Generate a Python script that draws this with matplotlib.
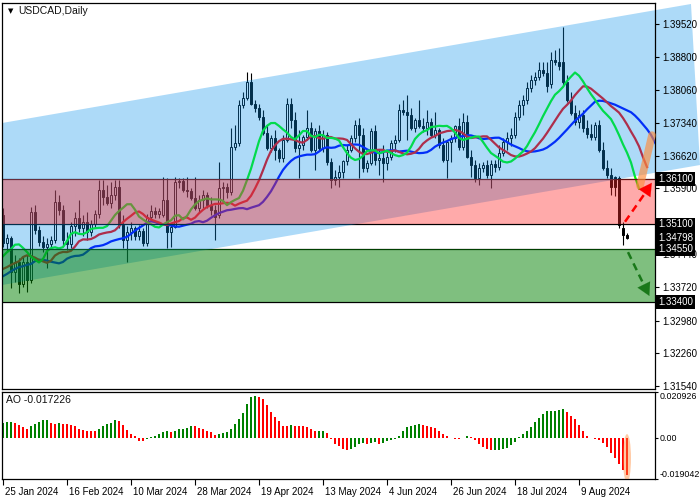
import matplotlib
matplotlib.use('Agg')
import matplotlib.pyplot as plt
import matplotlib.transforms as mtransforms
from matplotlib.patches import Polygon, Ellipse
import numpy as np

plt.rcParams['font.family'] = ['Liberation Sans', 'DejaVu Sans']

# ── USDCAD daily candles (25 Jan 2024 .. 22 Aug 2024) ──
opens = [1.3531, 1.3469, 1.3480, 1.3405, 1.3427, 1.3379, 1.3427, 1.3388, 1.3537, 1.3498,
         1.3471, 1.3460, 1.3467, 1.3476, 1.3559, 1.3542, 1.3476, 1.3467, 1.3507, 1.3524,
         1.3502, 1.3515, 1.3493, 1.3511, 1.3533, 1.3586, 1.3570, 1.3557, 1.3575, 1.3593,
         1.3509, 1.3476, 1.3493, 1.3502, 1.3485, 1.3496, 1.3469, 1.3526, 1.3540, 1.3533,
         1.3531, 1.3564, 1.3493, 1.3504, 1.3604, 1.3606, 1.3586, 1.3584, 1.3568, 1.3546,
         1.3564, 1.3575, 1.3553, 1.3542, 1.3531, 1.3590, 1.3593, 1.3582, 1.3681, 1.3690,
         1.3773, 1.3789, 1.3824, 1.3776, 1.3767, 1.3747, 1.3712, 1.3679, 1.3701, 1.3674,
         1.3656, 1.3696, 1.3776, 1.3740, 1.3679, 1.3685, 1.3703, 1.3723, 1.3674, 1.3716,
         1.3679, 1.3707, 1.3648, 1.3608, 1.3615, 1.3626, 1.3650, 1.3674, 1.3701, 1.3729,
         1.3707, 1.3634, 1.3645, 1.3716, 1.3652, 1.3656, 1.3645, 1.3659, 1.3690, 1.3696,
         1.3762, 1.3758, 1.3751, 1.3723, 1.3740, 1.3727, 1.3723, 1.3736, 1.3707, 1.3718,
         1.3685, 1.3652, 1.3692, 1.3701, 1.3727, 1.3681, 1.3736, 1.3659, 1.3641, 1.3612,
         1.3634, 1.3641, 1.3619, 1.3643, 1.3637, 1.3668, 1.3692, 1.3701, 1.3707, 1.3747,
         1.3773, 1.3784, 1.3811, 1.3829, 1.3835, 1.3851, 1.3844, 1.3820, 1.3873, 1.3868,
         1.3868, 1.3824, 1.3784, 1.3756, 1.3736, 1.3751, 1.3723, 1.3709, 1.3703, 1.3729,
         1.3674, 1.3634, 1.3619, 1.3615, 1.3612, 1.3502, 1.3487]
highs = [1.3546, 1.3489, 1.3485, 1.3443, 1.3436, 1.3440, 1.3443, 1.3548, 1.3553, 1.3507,
         1.3485, 1.3480, 1.3485, 1.3586, 1.3575, 1.3553, 1.3493, 1.3515, 1.3537, 1.3564,
         1.3531, 1.3537, 1.3520, 1.3542, 1.3608, 1.3608, 1.3597, 1.3604, 1.3608, 1.3608,
         1.3531, 1.3507, 1.3515, 1.3507, 1.3509, 1.3502, 1.3533, 1.3553, 1.3548, 1.3546,
         1.3615, 1.3612, 1.3509, 1.3615, 1.3612, 1.3612, 1.3615, 1.3590, 1.3615, 1.3575,
         1.3586, 1.3582, 1.3570, 1.3553, 1.3648, 1.3604, 1.3601, 1.3723, 1.3729, 1.3784,
         1.3802, 1.3846, 1.3844, 1.3784, 1.3776, 1.3762, 1.3729, 1.3707, 1.3718, 1.3679,
         1.3707, 1.3789, 1.3789, 1.3758, 1.3718, 1.3707, 1.3762, 1.3736, 1.3723, 1.3729,
         1.3718, 1.3714, 1.3656, 1.3630, 1.3641, 1.3652, 1.3685, 1.3707, 1.3740, 1.3745,
         1.3723, 1.3652, 1.3723, 1.3729, 1.3674, 1.3685, 1.3670, 1.3696, 1.3707, 1.3776,
         1.3784, 1.3795, 1.3767, 1.3745, 1.3784, 1.3745, 1.3762, 1.3745, 1.3758, 1.3723,
         1.3701, 1.3696, 1.3707, 1.3729, 1.3745, 1.3756, 1.3751, 1.3674, 1.3652, 1.3645,
         1.3648, 1.3652, 1.3652, 1.3652, 1.3685, 1.3701, 1.3714, 1.3723, 1.3758, 1.3784,
         1.3795, 1.3824, 1.3840, 1.3846, 1.3868, 1.3868, 1.3868, 1.3890, 1.3895, 1.3899,
         1.3945, 1.3840, 1.3802, 1.3773, 1.3762, 1.3762, 1.3740, 1.3731, 1.3736, 1.3740,
         1.3692, 1.3652, 1.3634, 1.3617, 1.3617, 1.3515, 1.3491]
lows = [1.3460, 1.3449, 1.3370, 1.3383, 1.3359, 1.3372, 1.3361, 1.3381, 1.3489, 1.3462,
        1.3449, 1.3414, 1.3458, 1.3469, 1.3531, 1.3462, 1.3454, 1.3458, 1.3485, 1.3493,
        1.3485, 1.3476, 1.3485, 1.3502, 1.3524, 1.3553, 1.3553, 1.3546, 1.3564, 1.3502,
        1.3458, 1.3427, 1.3476, 1.3476, 1.3476, 1.3462, 1.3462, 1.3518, 1.3524, 1.3524,
        1.3526, 1.3458, 1.3460, 1.3502, 1.3590, 1.3582, 1.3570, 1.3564, 1.3542, 1.3537,
        1.3546, 1.3546, 1.3531, 1.3476, 1.3524, 1.3564, 1.3568, 1.3575, 1.3674, 1.3683,
        1.3767, 1.3784, 1.3773, 1.3758, 1.3740, 1.3707, 1.3674, 1.3670, 1.3652, 1.3648,
        1.3648, 1.3692, 1.3723, 1.3670, 1.3612, 1.3674, 1.3696, 1.3670, 1.3630, 1.3674,
        1.3670, 1.3641, 1.3590, 1.3597, 1.3593, 1.3612, 1.3641, 1.3670, 1.3692, 1.3612,
        1.3626, 1.3626, 1.3641, 1.3641, 1.3619, 1.3604, 1.3630, 1.3652, 1.3670, 1.3692,
        1.3751, 1.3696, 1.3718, 1.3714, 1.3723, 1.3714, 1.3707, 1.3703, 1.3701, 1.3679,
        1.3648, 1.3612, 1.3648, 1.3692, 1.3674, 1.3674, 1.3656, 1.3615, 1.3604, 1.3597,
        1.3626, 1.3612, 1.3590, 1.3626, 1.3630, 1.3661, 1.3674, 1.3683, 1.3701, 1.3740,
        1.3751, 1.3776, 1.3802, 1.3817, 1.3829, 1.3837, 1.3802, 1.3811, 1.3862, 1.3851,
        1.3817, 1.3780, 1.3751, 1.3729, 1.3723, 1.3714, 1.3701, 1.3696, 1.3696, 1.3670,
        1.3630, 1.3612, 1.3575, 1.3573, 1.3502, 1.3465, 1.3478]
closes = [1.3469, 1.3480, 1.3405, 1.3427, 1.3379, 1.3427, 1.3388, 1.3537, 1.3498, 1.3471,
          1.3460, 1.3467, 1.3476, 1.3559, 1.3542, 1.3476, 1.3467, 1.3507, 1.3524, 1.3502,
          1.3515, 1.3493, 1.3511, 1.3533, 1.3586, 1.3570, 1.3557, 1.3575, 1.3593, 1.3509,
          1.3476, 1.3493, 1.3502, 1.3485, 1.3496, 1.3469, 1.3526, 1.3540, 1.3533, 1.3540,
          1.3564, 1.3493, 1.3504, 1.3604, 1.3606, 1.3586, 1.3584, 1.3568, 1.3546, 1.3564,
          1.3575, 1.3553, 1.3542, 1.3526, 1.3590, 1.3593, 1.3582, 1.3681, 1.3690, 1.3773,
          1.3789, 1.3824, 1.3776, 1.3767, 1.3747, 1.3712, 1.3679, 1.3701, 1.3674, 1.3656,
          1.3696, 1.3776, 1.3740, 1.3679, 1.3685, 1.3703, 1.3723, 1.3674, 1.3716, 1.3679,
          1.3707, 1.3648, 1.3608, 1.3615, 1.3626, 1.3650, 1.3674, 1.3701, 1.3729, 1.3707,
          1.3634, 1.3645, 1.3716, 1.3652, 1.3656, 1.3645, 1.3659, 1.3690, 1.3696, 1.3762,
          1.3758, 1.3751, 1.3723, 1.3740, 1.3727, 1.3723, 1.3736, 1.3707, 1.3718, 1.3685,
          1.3652, 1.3692, 1.3701, 1.3727, 1.3681, 1.3736, 1.3659, 1.3641, 1.3612, 1.3634,
          1.3641, 1.3619, 1.3643, 1.3637, 1.3668, 1.3692, 1.3701, 1.3707, 1.3747, 1.3773,
          1.3784, 1.3811, 1.3829, 1.3835, 1.3851, 1.3844, 1.3815, 1.3873, 1.3868, 1.3859,
          1.3824, 1.3784, 1.3756, 1.3736, 1.3751, 1.3723, 1.3709, 1.3703, 1.3729, 1.3674,
          1.3634, 1.3619, 1.3593, 1.3593, 1.3509, 1.3487, 1.3480]

# Awesome Oscillator values
ao = [0.0068, 0.0072, 0.0073, 0.0068, 0.0058, 0.0047, 0.0041, 0.0051, 0.0061, 0.0072,
      0.0081, 0.0082, 0.0068, 0.0063, 0.0065, 0.0064, 0.0063, 0.0056, 0.0051, 0.0040,
      0.0035, 0.0031, 0.0030, 0.0029, 0.0037, 0.0051, 0.0063, 0.0068, 0.0081, 0.0077,
      0.0058, 0.0035, 0.0017, 0.0005, -0.0014, -0.0015, -0.0008, 0.0003, 0.0008, 0.0015,
      0.0026, 0.0028, 0.0026, 0.0032, 0.0040, 0.0041, 0.0042, 0.0054, 0.0053, 0.0046,
      0.0040, 0.0031, 0.0024, 0.0014, 0.0017, 0.0023, 0.0024, 0.0037, 0.0063, 0.0086,
      0.0113, 0.0155, 0.0184, 0.0192, 0.0187, 0.0175, 0.0148, 0.0116, 0.0096, 0.0078,
      0.0054, 0.0053, 0.0058, 0.0055, 0.0054, 0.0051, 0.0050, 0.0040, 0.0030, 0.0031,
      0.0032, 0.0023, -0.0008, -0.0028, -0.0038, -0.0051, -0.0055, -0.0054, -0.0043, -0.0028,
      -0.0024, -0.0031, -0.0023, -0.0022, -0.0028, -0.0023, -0.0015, -0.0009, -0.0008, 0.0008,
      0.0029, 0.0049, 0.0055, 0.0058, 0.0063, 0.0056, 0.0055, 0.0049, 0.0043, 0.0031,
      0.0018, 0.0005, -0.0003, -0.0006, -0.0007, -0.0003, 0.0008, 0.0003, -0.0012, -0.0028,
      -0.0043, -0.0054, -0.0059, -0.0058, -0.0056, -0.0054, -0.0047, -0.0035, -0.0020, 0.0003,
      0.0017, 0.0029, 0.0049, 0.0072, 0.0092, 0.0109, 0.0121, 0.0122, 0.0123, 0.0125,
      0.0132, 0.0118, 0.0098, 0.0084, 0.0056, 0.0029, 0.0008, -0.0003, -0.0006, -0.0012,
      -0.0023, -0.0045, -0.0069, -0.0095, -0.0121, -0.0148, -0.0172]

# Alligator line values left of the first visible bar
jaw_head = [1.3396, 1.3401, 1.3407, 1.3412, 1.3416, 1.3418, 1.3421, 1.3423]
teeth_head = [1.3412, 1.3416, 1.3421, 1.3425, 1.3429]
lips_head = [1.3440, 1.3449, 1.3456]

date_labels = ['25 Jan 2024', '16 Feb 2024', '10 Mar 2024', '28 Mar 2024', '19 Apr 2024',
               '13 May 2024', '4 Jun 2024', '26 Jun 2024', '18 Jul 2024', '9 Aug 2024']
price_ticks = [1.39520, 1.38800, 1.38060, 1.37340, 1.36620, 1.35900,
               1.35180, 1.34440, 1.33720, 1.32980, 1.32260, 1.31540]
hidden_ticks = [1.35180]          # label covered by a level box in the terminal
ao_ticks = [0.020926, 0.0, -0.019042]
ao_tick_labels = ['0.020926', '0.00', '-0.019042']
level_labels = [1.36100, 1.35100, 1.34798, 1.34550, 1.33400]

# zones / channel (price levels)
red_zone = (1.3510, 1.3610)
green_zone = (1.3340, 1.3455)
channel_top = [(-0.25, 1.37337), (172.0, 1.39961)]
channel_bot = [(174.25, 1.36411), (-0.25, 1.33765)]

FS = 7


def smma(src, n, seed):
    out, v = [], seed
    for s in src:
        v = (v * (n - 1) + s) / n
        out.append(v)
    return out


fig = plt.figure(figsize=(7, 5), dpi=100)
fig.patch.set_facecolor('white')
ax = fig.add_axes([2 / 700, 1 - 389 / 500, 653 / 700, 386 / 500])
ax2 = fig.add_axes([2 / 700, 1 - 479 / 500, 653 / 700, 87 / 500])
for a in (ax, ax2):
    a.set_xlim(-0.25, 163.0)
    a.set_axisbelow(False)
    for s in a.spines.values():
        s.set_linewidth(0.9)
        s.set_color('black')

ax.set_ylim(1.31473, 1.39983)
ax2.set_ylim(-0.019042, 0.020926)

# ── candles ──
x = np.arange(len(closes))
o = np.array(opens)
c = np.array(closes)
up = c >= o
ax.vlines(x, lows, highs, color='black', lw=0.8, zorder=1.2)
ax.bar(x, np.maximum(np.abs(c - o), 0.00005), bottom=np.minimum(o, c), width=0.55,
       color=np.where(up, 'white', 'black'), edgecolor='black', lw=0.7, zorder=1.3)

# ── Alligator ──
med = (np.array(highs) + np.array(lows)) / 2
jaw = jaw_head + smma(med, 13, jaw_head[-1])
teeth = teeth_head + smma(med, 8, teeth_head[-1])
lips = lips_head + smma(med, 5, lips_head[-1])
ax.plot(np.arange(len(jaw)), jaw, color='#0000FF', lw=1.6, zorder=1.5)
ax.plot(np.arange(len(teeth)), teeth, color='#FF0000', lw=1.6, zorder=1.5)
ax.plot(np.arange(len(lips)), lips, color='#00FF00', lw=1.6, zorder=1.5)

# zone borders
for lvl in (*red_zone, *green_zone):
    ax.axhline(lvl, color='black', lw=0.9, zorder=1.6)

# ── translucent overlays ──
ax.add_patch(Polygon(channel_top + channel_bot, closed=True, fc=(7 / 255, 143 / 255, 234 / 255),
                     alpha=0.33, lw=0, zorder=2.0, clip_on=False))
ax.axhspan(*red_zone, fc=(1.0, 43 / 255, 43 / 255), alpha=0.4, lw=0, zorder=2.1)
ax.axhspan(*green_zone, fc=(1 / 255, 129 / 255, 1 / 255), alpha=0.5, lw=0, zorder=2.2)

# ── forecast marks ──
ax.plot([159.25, 162.25], [1.3595, 1.3707], color='#FF8C3C', alpha=0.65, lw=5.5,
        solid_capstyle='round', zorder=3, clip_on=False)
ax.plot([155.5, 161.7], [1.3516, 1.3594], color='#FF0000', lw=1.8, ls=(0, (3, 2)), zorder=3.1)
ax.annotate('', xy=(162.6, 1.3607), xytext=(161.2, 1.3589),
            arrowprops=dict(arrowstyle='-|>,head_length=0.9,head_width=0.5', color='#FF0000',
                            lw=0.1, mutation_scale=10), zorder=3.1, annotation_clip=False)
ax.plot([156.25, 161.2], [1.3449, 1.3359], color='#197819', lw=1.8, ls=(0, (3, 2)), zorder=3.1)
ax.annotate('', xy=(161.9, 1.3347), xytext=(160.9, 1.3365),
            arrowprops=dict(arrowstyle='-|>,head_length=0.9,head_width=0.5', color='#197819',
                            lw=0.1, mutation_scale=10), zorder=3.1, annotation_clip=False)

# ── price axis ──
ax.yaxis.tick_right()
ax.set_yticks(price_ticks)
ax.set_yticklabels(['' if t in hidden_ticks else f'{t:.5f}' for t in price_ticks])
ax.tick_params(axis='y', length=3, width=0.8, pad=2, labelsize=FS, colors='black')
ax.tick_params(axis='x', bottom=False, labelbottom=False)
for lvl in level_labels:
    ax.text(1.0 + 3 / 653, lvl, f'{lvl:.5f}', transform=ax.get_yaxis_transform(),
            ha='left', va='center', fontsize=FS, color='white', zorder=5, clip_on=False,
            bbox=dict(boxstyle='square,pad=0.2', fc='black', ec='none'))

fig.text(8 / 700, 1 - 11 / 500, '▼', fontsize=5, va='center', ha='left', color='black',
         family='DejaVu Sans')
fig.text(18 / 700, 1 - 11 / 500, 'USDCAD,Daily', fontsize=7.5, va='center', ha='left',
         color='#111111')

# ── AO panel ──
ax2.bar(x, ao, width=0.62, lw=0,
        color=['#008000' if i == 0 or ao[i] > ao[i - 1] else '#FF0000' for i in range(len(ao))],
        zorder=1)
ax2.add_patch(Ellipse((156, -0.0095), 2.0, 0.0222, fc='#FF8C3C', alpha=0.45, lw=0, zorder=3))
ax2.yaxis.tick_right()
ax2.set_yticks(ao_ticks)
ax2.set_yticklabels(ao_tick_labels)
ax2.tick_params(axis='y', length=2, width=0.8, pad=1, labelsize=6.4, colors='black')
labs = ax2.get_yticklabels()
labs[0].set_va('top')
labs[2].set_va('bottom')
fig.text(6 / 700, 1 - 400 / 500, 'AO -0.017226', fontsize=7.5, va='center', ha='left',
         color='#111111')

date_pos = np.arange(0, len(closes), 16)
ax2.set_xticks(date_pos)
ax2.set_xticklabels(date_labels)
ax2.tick_params(axis='x', length=4, width=0.8, pad=2, labelsize=FS, colors='black')
shift = mtransforms.ScaledTranslation(2 / 100, 0, fig.dpi_scale_trans)
for lab in ax2.get_xticklabels():
    lab.set_ha('left')
    lab.set_transform(lab.get_transform() + shift)

fig.savefig('out.png', dpi=100, facecolor='white')
